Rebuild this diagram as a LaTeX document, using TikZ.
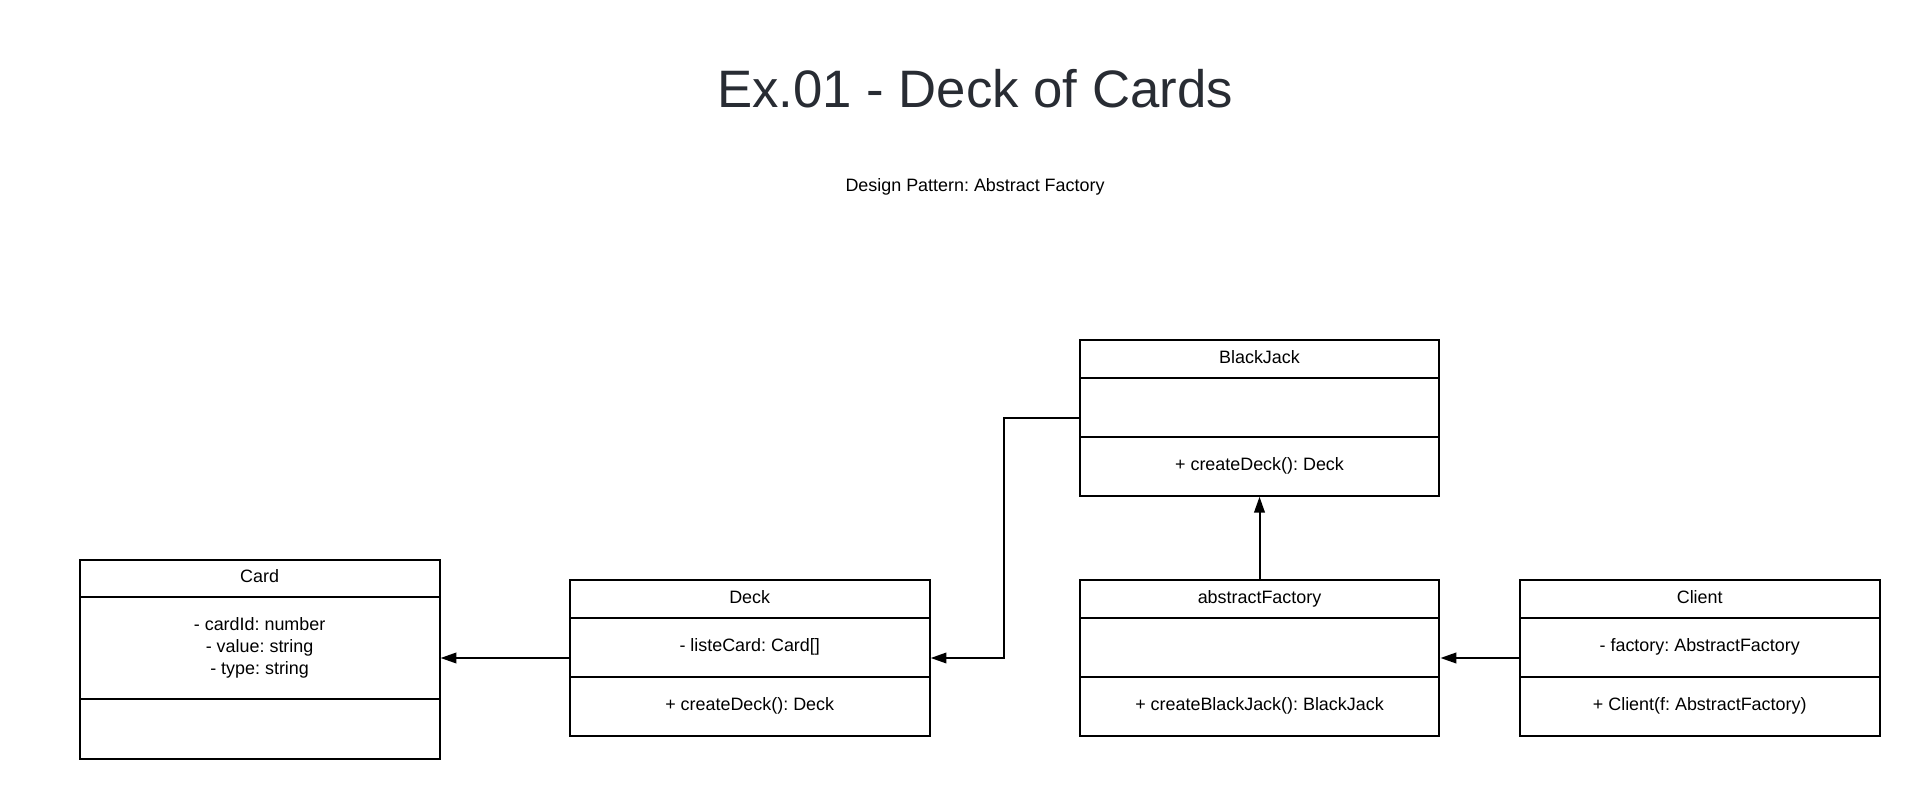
\documentclass[tikz,border=0pt]{standalone}
\usepackage{fontspec}
\setmainfont{Liberation Sans}
\usepackage{tikz}
\usetikzlibrary{arrows.meta,fit,positioning}
\definecolor{titlegray}{RGB}{40,44,51}
\frenchspacing

\begin{document}
\begin{tikzpicture}[x=0.02cm, y=-0.02cm,
		classframe/.style={draw, outer sep=0pt, inner sep=0pt, minimum width=7.2cm,
			font=\fontsize{10.2}{12.5}\selectfont},
		classhead/.style={classframe, minimum height=0.75cm, text height=0.72em, text depth=0.22em},
		classpart/.style={classframe, minimum height=1.18cm, align=center},
		classbox/.style={inner sep=0pt},
		>={Triangle[length=9pt,width=6pt]}, line width=1.15pt]
		\useasboundingbox (0,0) rectangle (1920,798);
		\node[anchor=base, text=titlegray, font=\fontsize{30}{36}\selectfont] (title) at (975,107.3) {Ex.01 - Deck of Cards};
		\node[anchor=base, font=\fontsize{10.2}{12.5}\selectfont] (subtitle) at (975,191) {Design Pattern: Abstract Factory};

		% Card
		\node[classhead] (card) at (259.6,578.3) {Card};
		\node[classpart, below=0pt of card, minimum height=2.03cm] (card-attr) {- cardId: number\\- value: string\\- type: string};
		\node[classpart, below=0pt of card-attr, minimum height=1.2cm] (card-ops) {};
		\node[classbox, fit=(card)(card-ops)] (cardbox) {};

		% Deck
		\node[classhead] (deck) at (749.7,599) {Deck};
		\node[classpart, below=0pt of deck] (deck-attr) {- listeCard: Card[]};
		\node[classpart, below=0pt of deck-attr] (deck-ops) {+ createDeck(): Deck};
		\node[classbox, fit=(deck)(deck-ops)] (deckbox) {};

		% BlackJack
		\node[classhead] (bj) at (1259.5,359) {BlackJack};
		\node[classpart, below=0pt of bj] (bj-attr) {};
		\node[classpart, below=0pt of bj-attr] (bj-ops) {+ createDeck(): Deck};
		\node[classbox, fit=(bj)(bj-ops)] (bjbox) {};

		% abstractFactory
		\node[classhead] (af) at (1259.5,599) {abstractFactory};
		\node[classpart, below=0pt of af] (af-attr) {};
		\node[classpart, below=0pt of af-attr] (af-ops) {+ createBlackJack(): BlackJack};
		\node[classbox, fit=(af)(af-ops)] (afbox) {};

		% Client
		\node[classhead] (client) at (1699.7,599) {Client};
		\node[classpart, below=0pt of client] (client-attr) {- factory: AbstractFactory};
		\node[classpart, below=0pt of client-attr] (client-ops) {+ Client(f: AbstractFactory)};
		\node[classbox, fit=(client)(client-ops)] (clientbox) {};

		\draw[->] (deckbox.west) -- (deckbox.west -| cardbox.east);
		\draw[->] (bjbox.west) -- ++(-74.7,0) |- (deckbox.east);
		\draw[->] (afbox.north) -- (bjbox.south);
		\draw[->] (clientbox.west) -- (afbox.east);
	\end{tikzpicture}
\end{document}
